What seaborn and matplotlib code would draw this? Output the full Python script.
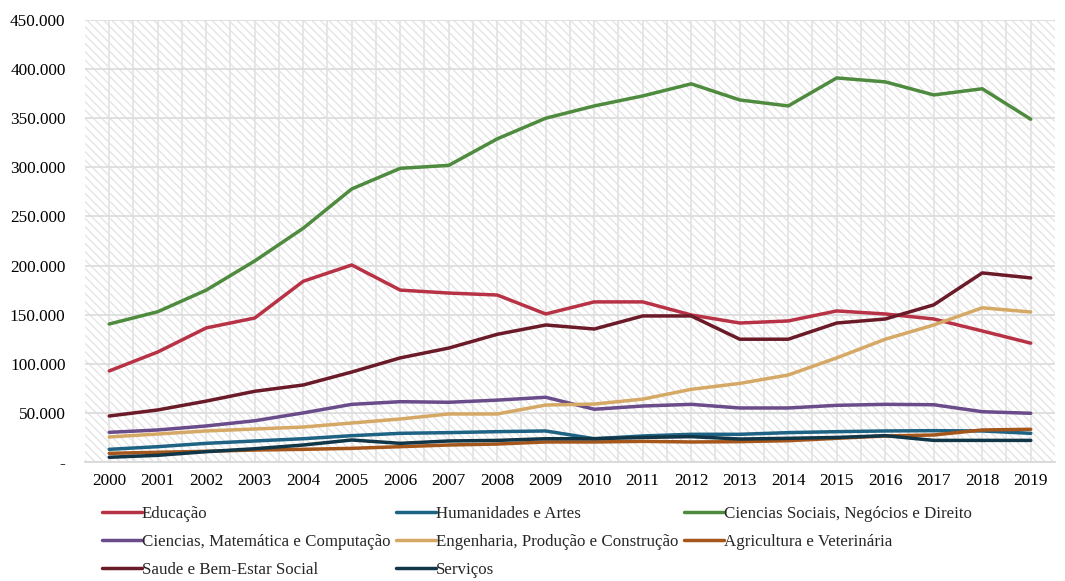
import numpy as np
import pandas as pd
import matplotlib
matplotlib.use("Agg")
import matplotlib.pyplot as plt
import matplotlib.ticker as mticker
from matplotlib.patches import Rectangle
import seaborn as sns

years = list(range(2000, 2020))

educacao = [92700, 112000, 136500, 146600, 184000, 200600, 175000, 172000, 170000, 150700,
            163000, 163000, 149700, 141500, 143600, 153800, 150700, 145600, 133400, 121000]
humanidades = [12900, 15600, 19000, 21400, 23700, 26800, 29200, 29900, 30900, 31600,
               23700, 26500, 28200, 28200, 29900, 30900, 31600, 31900, 31600, 29200]
ciencias_sociais = [140500, 153000, 175000, 204700, 238000, 278000, 299000, 302000, 329000, 350000,
                    362500, 372700, 385000, 368600, 362500, 391000, 387000, 373700, 380000, 349000]
ciencias_mat = [30200, 32600, 36700, 42000, 50000, 58700, 61400, 60800, 63000, 65900,
                53700, 57000, 58700, 55000, 55000, 57700, 58700, 58300, 51200, 49600]
engenharia = [25500, 28500, 31600, 33600, 35600, 39700, 43800, 48900, 48900, 58000,
              59000, 64000, 74000, 80000, 88600, 106000, 125000, 139500, 157000, 152700]
agricultura = [8800, 9900, 10900, 12200, 12900, 13900, 15600, 17300, 18300, 20400,
               20400, 21000, 20400, 20700, 21700, 24100, 26500, 27500, 32600, 33300]
saude = [46800, 53000, 62000, 72000, 78400, 91600, 106000, 116000, 130000, 139500,
         135400, 148700, 148700, 125000, 125000, 141500, 145600, 160000, 192500, 187400]
servicos = [4800, 6800, 10500, 13500, 17300, 22400, 19000, 21400, 22000, 23700,
            23700, 25000, 25800, 23400, 24100, 25000, 26800, 22000, 22000, 22000]

series_names = ["Educação", "Humanidades e Artes", "Ciencias Sociais, Negócios e Direito",
                "Ciencias, Matemática e Computação", "Engenharia, Produção e Construção",
                "Agricultura e Veterinária", "Saude e Bem-Estar Social", "Serviços"]
series_values = [educacao, humanidades, ciencias_sociais, ciencias_mat, engenharia,
                 agricultura, saude, servicos]
colors = ["#B83246", "#1E6384", "#4F8B3F", "#6A4C8A", "#D5A965",
          "#A4561B", "#6B1A28", "#113647"]

rows = []
for name, vals in zip(series_names, series_values):
    for y, v in zip(years, vals):
        rows.append({"Ano": y, "Valor": v, "Área": name})
df = pd.DataFrame(rows)

sns.set_theme(style="white")
plt.rcParams["font.family"] = ["Liberation Serif", "DejaVu Serif"]
plt.rcParams["hatch.linewidth"] = 1.0

fig = plt.figure(figsize=(10.65, 5.81), dpi=100)
ax = fig.add_axes([85 / 1065, 1 - 462 / 581, 970 / 1065, 442 / 581])

# hatched background
ax.set_facecolor("white")
bg = Rectangle((0, 0), 1, 1, transform=ax.transAxes, facecolor="white",
               edgecolor="#E5E5E5", hatch="\\" * 4, linewidth=0, zorder=0)
ax.add_patch(bg)

sns.lineplot(data=df, x="Ano", y="Valor", hue="Área", hue_order=series_names,
             palette=colors, linewidth=2.5, ax=ax, legend=False, zorder=3)

ax.set_xlim(1999.5, 2019.5)
ax.set_ylim(0, 450000)
ax.set_xticks(years)
ax.set_xticks([y + 0.5 for y in years[:-1]], minor=True)
ax.set_yticks(np.arange(0, 450001, 50000))


def fmt(v, pos):
    if v == 0:
        return "-"
    return f"{int(v):,}".replace(",", ".")


ax.yaxis.set_major_formatter(mticker.FuncFormatter(fmt))
ax.grid(True, which="major", axis="y", color="#DDDDDD", linewidth=1.3, zorder=1)
ax.grid(True, which="both", axis="x", color="#E4E4E4", linewidth=1.3, zorder=1)
ax.set_axisbelow(True)
for s in ["top", "right", "left"]:
    ax.spines[s].set_visible(False)
ax.spines["bottom"].set_color("#D9D9D9")
ax.spines["bottom"].set_linewidth(1.3)
ax.tick_params(axis="both", which="both", length=0, labelsize=12.4, colors="black")
ax.tick_params(axis="y", pad=14)
ax.tick_params(axis="x", pad=8)
ax.set_xlabel("")
ax.set_ylabel("")

# legend in row-major order (3 columns)
handles = [plt.Line2D([], [], color=c, linewidth=2.5) for c in colors]
order = [0, 3, 6, 1, 4, 7, 2, 5]
fig.legend([handles[i] for i in order], [series_names[i] for i in order],
           ncol=3, loc="upper left", bbox_to_anchor=(102 / 1065, 1 - 506 / 581),
           frameon=False, fontsize=12.2, handlelength=2.35, handletextpad=0.0,
           columnspacing=0.35, labelspacing=0.72, borderpad=0, borderaxespad=0)

fig.savefig("out.png", dpi=100)
